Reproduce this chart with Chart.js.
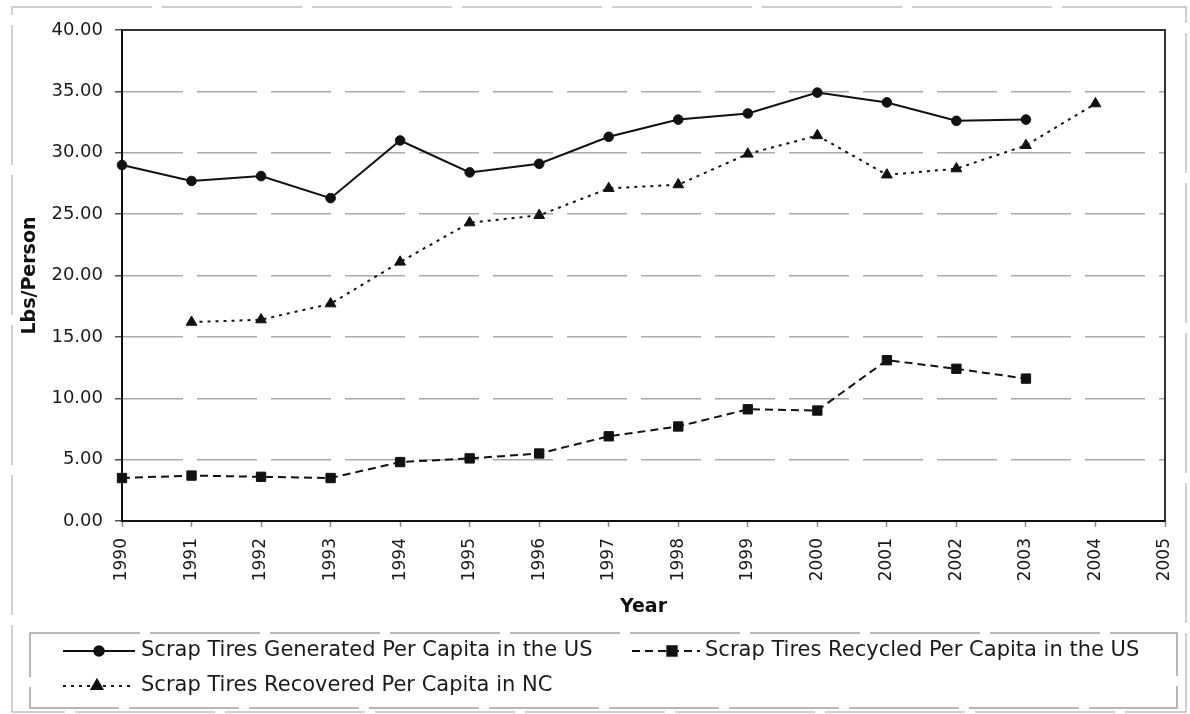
<!DOCTYPE html>
<html>
<head>
<meta charset="utf-8">
<title>Scrap Tires Per Capita</title>
<script src="https://cdn.jsdelivr.net/npm/chart.js@4.4.0/dist/chart.umd.min.js"></script>
<style>
  html, body { margin: 0; padding: 0; background: #ffffff; }
  #wrap { position: relative; width: 1190px; height: 714px; }
</style>
</head>
<body>
<div id="wrap"><canvas id="chart" width="1190" height="714"></canvas></div>
<script>
// Years on the category axis
const years = ['1990', '1991', '1992', '1993', '1994', '1995', '1996', '1997',
               '1998', '1999', '2000', '2001', '2002', '2003', '2004', '2005'];

// Pounds per person, one value per year (null = no data)
const generatedUS = [29.0, 27.7, 28.1, 26.3, 31.0, 28.4, 29.1, 31.3, 32.7, 33.2, 34.9, 34.1, 32.6, 32.7, null, null];
const recycledUS  = [3.5, 3.7, 3.6, 3.5, 4.8, 5.1, 5.5, 6.9, 7.7, 9.1, 9.0, 13.1, 12.4, 11.6, null, null];
const recoveredNC = [null, 16.2, 16.4, 17.7, 21.1, 24.3, 24.9, 27.1, 27.4, 29.9, 31.4, 28.2, 28.7, 30.6, 34.0, null];

const seriesNames = [
  'Scrap Tires Generated Per Capita in the US',
  'Scrap Tires Recycled Per Capita in the US',
  'Scrap Tires Recovered Per Capita in NC'
];

const yAxisTitle = 'Lbs/Person';
const xAxisTitle = 'Year';

const FONT = "'DejaVu Sans', 'Liberation Sans', Arial, sans-serif";
const INK = '#111111';

// Frame around the plot area (top and right edges) plus the outer border
const framePlugin = {
  id: 'frame',
  afterDraw(chart) {
    const { ctx, chartArea: a } = chart;
    ctx.save();
    ctx.strokeStyle = '#333333';
    ctx.lineWidth = 2;
    ctx.beginPath();
    ctx.moveTo(a.left, a.top);
    ctx.lineTo(a.right, a.top);
    ctx.lineTo(a.right, a.bottom);
    ctx.stroke();

    ctx.strokeStyle = '#c0c0c0';
    ctx.lineWidth = 1.5;
    ctx.setLineDash([140, 10]);
    ctx.strokeRect(12, 7, 1174, 705);
    ctx.restore();
  }
};

// Boxed legend: sample line with its marker, then the series name
const boxedLegendPlugin = {
  id: 'boxedLegend',
  afterDraw(chart) {
    const { ctx } = chart;
    const box = { x: 30, y: 633, w: 1147, h: 75 };
    const slots = [
      { x1: 63,  x2: 135, mx: 99,  tx: 141, y: 651 },
      { x1: 632, x2: 700, mx: 672, tx: 705, y: 651 },
      { x1: 63,  x2: 135, mx: 97,  tx: 141, y: 686 }
    ];
    ctx.save();
    ctx.strokeStyle = '#a0a0a0';
    ctx.lineWidth = 1.5;
    ctx.setLineDash([110, 10]);
    ctx.strokeRect(box.x, box.y, box.w, box.h);
    ctx.restore();

    chart.data.datasets.forEach((ds, i) => {
      const s = slots[i];
      ctx.save();
      ctx.strokeStyle = ds.borderColor;
      ctx.lineWidth = ds.borderWidth;
      ctx.setLineDash(ds.borderDash || []);
      ctx.beginPath();
      ctx.moveTo(s.x1, s.y);
      ctx.lineTo(s.x2, s.y);
      ctx.stroke();
      ctx.setLineDash([]);
      ctx.fillStyle = ds.pointBackgroundColor;
      ctx.strokeStyle = ds.pointBorderColor;
      Chart.helpers.drawPoint(ctx, {
        pointStyle: ds.pointStyle,
        rotation: 0,
        radius: ds.pointRadius,
        borderWidth: 1
      }, s.mx, s.y);
      ctx.fillStyle = '#1a1a1a';
      ctx.font = '21px ' + FONT;
      ctx.textAlign = 'left';
      ctx.textBaseline = 'middle';
      ctx.fillText(ds.label, s.tx, s.y);
      ctx.restore();
    });
  }
};

function series(label, data, dash, style, radius) {
  return {
    label: label,
    data: data,
    borderColor: INK,
    backgroundColor: INK,
    borderWidth: 2,
    borderDash: dash,
    pointStyle: style,
    pointRadius: radius,
    pointBackgroundColor: INK,
    pointBorderColor: INK,
    pointBorderWidth: 1,
    tension: 0,
    spanGaps: false,
    clip: false
  };
}

new Chart(document.getElementById('chart'), {
  type: 'line',
  data: {
    labels: years,
    datasets: [
      series(seriesNames[0], generatedUS, [], 'circle', 4.8),
      series(seriesNames[1], recycledUS, [8, 5], 'rect', 6.6),
      series(seriesNames[2], recoveredNC, [3, 5], 'triangle', 6.2)
    ]
  },
  options: {
    responsive: false,
    animation: false,
    devicePixelRatio: 1,
    layout: { padding: { left: 0, top: 30, right: 25, bottom: 93 } },
    plugins: {
      legend: { display: false },
      tooltip: { enabled: false }
    },
    scales: {
      x: {
        type: 'category',
        offset: false,
        grid: {
          drawOnChartArea: false,
          drawTicks: true,
          tickLength: 6,
          tickColor: '#8c8c8c',
          tickWidth: 1.5
        },
        border: { color: INK, width: 2 },
        ticks: {
          autoSkip: false,
          minRotation: 90,
          maxRotation: 90,
          padding: 11,
          color: '#1a1a1a',
          font: { family: FONT, size: 17 }
        },
        title: {
          display: true,
          text: xAxisTitle,
          color: INK,
          font: { family: FONT, size: 19, weight: 'bold' },
          padding: { top: 0, bottom: 3 }
        },
        afterFit(scale) {
          scale.height = 100;
          scale.paddingLeft = 0;
          scale.paddingRight = 0;
        }
      },
      y: {
        min: 0,
        max: 40,
        grid: {
          color: '#a8a8a8',
          lineWidth: 1.5,
          drawTicks: true,
          tickLength: 7,
          tickColor: '#555555',
          tickWidth: 1.5,
          tickBorderDash: []
        },
        border: { color: INK, width: 2, dash: [60, 14] },
        ticks: {
          stepSize: 5,
          padding: 12,
          color: '#1a1a1a',
          font: { family: FONT, size: 18 },
          callback: (v) => Number(v).toFixed(2)
        },
        title: {
          display: true,
          text: yAxisTitle,
          color: INK,
          font: { family: FONT, size: 19, weight: 'bold' },
          padding: { top: 19, bottom: 0 }
        },
        afterFit(scale) { scale.width = 122; }
      }
    }
  },
  plugins: [framePlugin, boxedLegendPlugin]
});
</script>
</body>
</html>
